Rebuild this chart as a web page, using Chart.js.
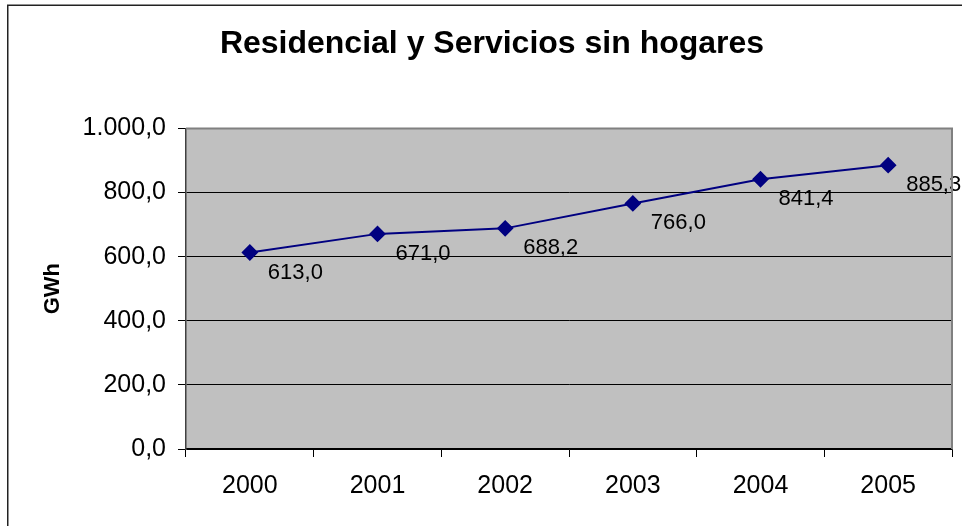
<!DOCTYPE html>
<html>
<head>
<meta charset="utf-8">
<script src="https://cdn.jsdelivr.net/npm/chart.js@4/dist/chart.umd.min.js"></script>
<style>
  html, body { margin: 0; padding: 0; background: #fff; }
  #wrap { width: 962px; height: 526px; position: relative; }
</style>
</head>
<body>
<div id="wrap"><canvas id="c" width="962" height="526"></canvas></div>
<script>
const titleText = 'Residencial y Servicios sin hogares';
const yAxisTitle = 'GWh';
const years = ['2000', '2001', '2002', '2003', '2004', '2005'];
const values = [613.0, 671.0, 688.2, 766.0, 841.4, 885.3];
const yMin = 0;
const yMax = 1000;
const yStep = 200;

const FONT = '"Liberation Sans", Arial, sans-serif';

function fmtEs(v) {
  const s = Math.abs(v).toFixed(1);
  const [ip, dp] = s.split('.');
  const withSep = ip.replace(/\B(?=(\d{3})+(?!\d))/g, '.');
  return (v < 0 ? '-' : '') + withSep + ',' + dp;
}

const frame = {
  id: 'frame',
  beforeDraw(chart) {
    const ctx = chart.ctx;
    const a = chart.chartArea;
    ctx.save();
    ctx.fillStyle = '#ffffff';
    ctx.fillRect(0, 0, chart.width, chart.height);
    ctx.strokeStyle = '#222222';
    ctx.lineWidth = 1.5;
    ctx.beginPath();
    ctx.moveTo(7.75, chart.height + 5);
    ctx.lineTo(7.75, 5.25);
    ctx.lineTo(chart.width + 5, 5.25);
    ctx.stroke();
    ctx.fillStyle = '#C0C0C0';
    ctx.fillRect(a.left, a.top, a.right - a.left, a.bottom - a.top);
    ctx.restore();
  },
  afterDraw(chart) {
    const ctx = chart.ctx;
    const a = chart.chartArea;
    ctx.save();
    ctx.strokeStyle = '#808080';
    ctx.lineWidth = 2;
    ctx.beginPath();
    ctx.moveTo(a.left, a.top);
    ctx.lineTo(a.right, a.top);
    ctx.lineTo(a.right, a.bottom);
    ctx.stroke();
    ctx.restore();
  }
};

const dataLabels = {
  id: 'dataLabels',
  afterDatasetsDraw(chart) {
    const ctx = chart.ctx;
    const meta = chart.getDatasetMeta(0);
    ctx.save();
    ctx.font = '22px ' + FONT;
    ctx.fillStyle = '#000000';
    ctx.textAlign = 'left';
    ctx.textBaseline = 'middle';
    meta.data.forEach((pt, i) => {
      ctx.fillText(fmtEs(values[i]), pt.x + 18, pt.y + 20);
    });
    ctx.restore();
  }
};

new Chart(document.getElementById('c'), {
  type: 'line',
  data: {
    labels: years,
    datasets: [{
      data: values,
      borderColor: '#000080',
      backgroundColor: '#000080',
      borderWidth: 2,
      pointStyle: 'rectRot',
      pointRadius: 7,
      pointHoverRadius: 7,
      pointBackgroundColor: '#000080',
      pointBorderColor: '#000080',
      tension: 0,
      fill: false
    }]
  },
  options: {
    responsive: false,
    animation: false,
    devicePixelRatio: 1,
    layout: { padding: { left: 32, right: 10, top: 0, bottom: 0 } },
    plugins: {
      legend: { display: false },
      tooltip: { enabled: false },
      title: {
        display: true,
        text: titleText,
        color: '#000000',
        font: { family: FONT, size: 32, weight: 'bold' },
        padding: { top: 25, bottom: 65 }
      }
    },
    scales: {
      x: {
        offset: true,
        afterFit(s) { s.height = 77; },
        grid: {
          offset: true,
          drawOnChartArea: false,
          drawTicks: true,
          tickLength: 8,
          tickColor: '#000000',
          color: '#000000'
        },
        border: { display: true, color: '#000000', width: 1.5 },
        ticks: {
          color: '#000000',
          font: { family: FONT, size: 25 },
          padding: 14,
          maxRotation: 0
        }
      },
      y: {
        min: yMin,
        max: yMax,
        afterFit(s) { s.width = 154; },
        grid: {
          color: (c) => (c.tick && c.tick.value === yMax ? '#808080' : '#000000'),
          tickColor: '#000000',
          tickLength: 8,
          lineWidth: 1
        },
        border: { display: true, color: '#404040', width: 1.5 },
        ticks: {
          stepSize: yStep,
          color: '#000000',
          font: { family: FONT, size: 25 },
          padding: 12,
          callback: (v) => fmtEs(v)
        },
        title: {
          display: true,
          text: yAxisTitle,
          color: '#000000',
          font: { family: FONT, size: 22, weight: 'bold' },
          padding: { top: 8, bottom: 0 }
        }
      }
    }
  },
  plugins: [frame, dataLabels]
});
</script>
</body>
</html>
